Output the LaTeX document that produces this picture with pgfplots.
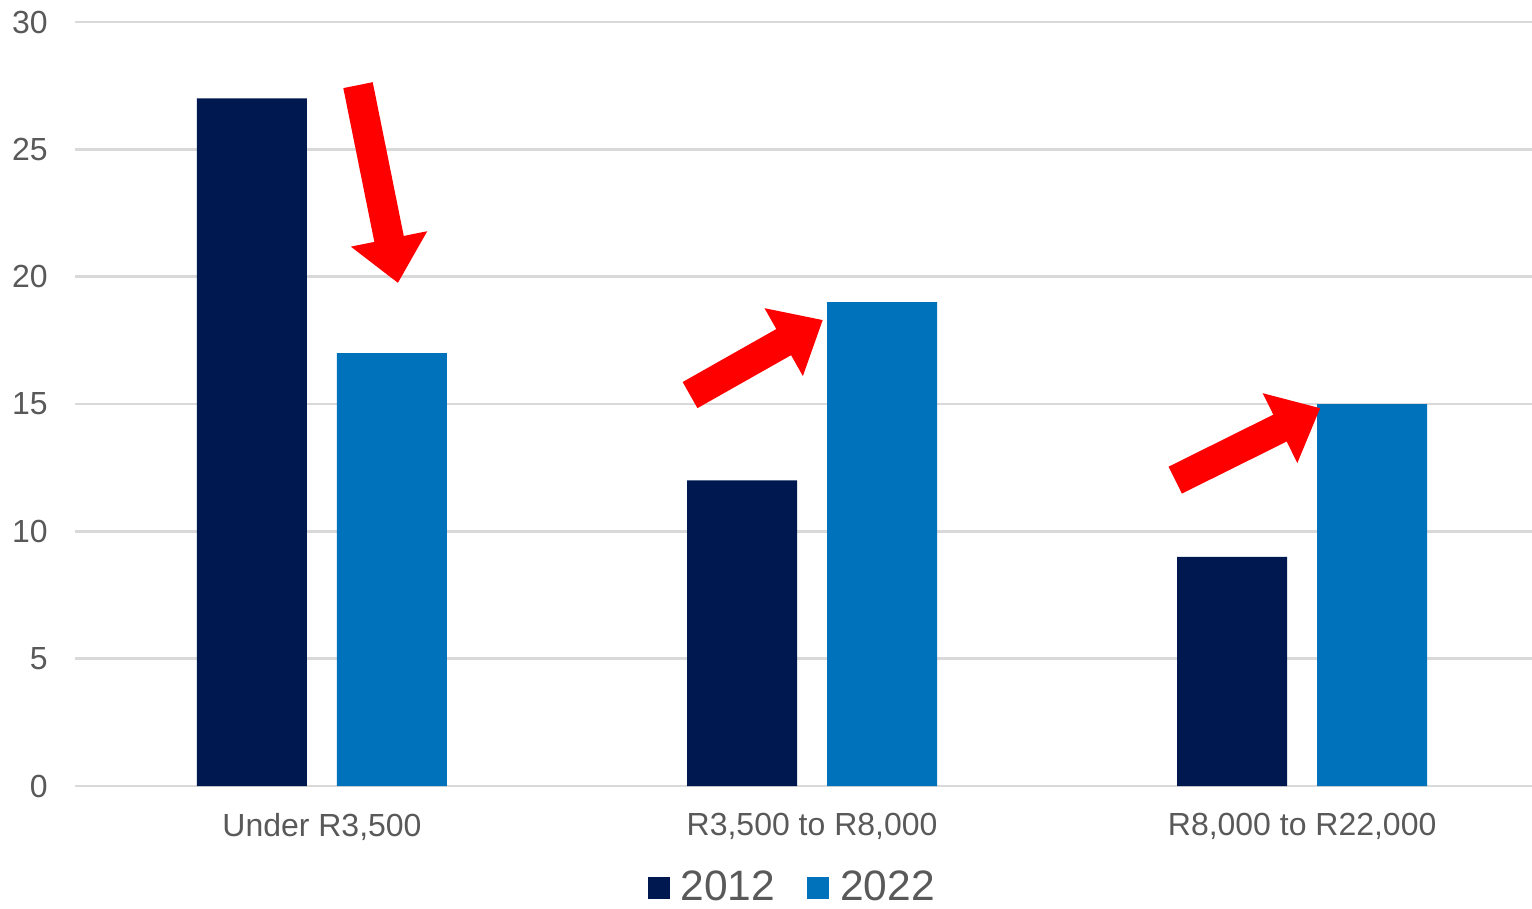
\documentclass[border=0pt]{standalone}
\usepackage{pgfplots}
\pgfplotsset{compat=1.18}
\usepackage{fontspec}
\setmainfont{Liberation Sans}
\usetikzlibrary{arrows.meta}
\definecolor{navy}{RGB}{0,24,80}
\definecolor{blue22}{RGB}{0,114,188}
\definecolor{txt}{RGB}{89,89,89}
\definecolor{gridc}{RGB}{217,217,217}
\begin{document}
\begin{tikzpicture}
\begin{axis}[
  scale only axis,
  width=14.57cm, height=7.64cm,
  xmin=-0.504, xmax=2.469,
  ymin=0, ymax=30,
  ytick={0,5,...,30},
  xtick={0,1,2},
  xticklabels={{Under R3,500},{R3,500 to R8,000},{R8,000 to R22,000}},
  major tick length=0pt,
  axis x line*=bottom,
  axis y line*=left,
  y axis line style={draw=none},
  x axis line style={draw=gridc, line width=0.8pt},
  xmajorgrids=false,
  ymajorgrids=true,
  major grid style={draw=gridc, line width=0.8pt},
  ticklabel style={font=\fontsize{9.1}{10}\selectfont, text=txt},
  /pgf/number format/assume math mode=true,
  yticklabel style={xshift=-0.15cm},
  xticklabel style={yshift=-0.15cm},
  ybar, bar width=1.1cm,
  legend style={at={(0.494,-0.134)}, anchor=center, draw=none, fill=none,
     legend columns=2, font=\fontsize{12.1}{14}\selectfont, text=txt,
     /tikz/every even column/.append style={column sep=0.25cm}},
  legend image code/.code={\fill[#1] (0cm,-0.11cm) rectangle (0.22cm,0.11cm);},
  clip=false,
]
\addplot[fill=navy, draw=none, bar shift=-0.7cm] coordinates {(0,27) (1,12) (2,9)};
\addplot[fill=blue22, draw=none, bar shift=0.7cm] coordinates {(0,17) (1,19) (2,15)};
\legend{\hspace{0.04cm}2012, \hspace{0.04cm}2022}
\draw[red, line width=0.3cm, -{Triangle[width=0.75cm,length=0.45cm]}] (axis cs:0.0735,27.52) -- (axis cs:0.155,19.75);
\draw[red, line width=0.3cm, -{Triangle[width=0.75cm,length=0.45cm]}] (axis cs:0.751,15.35) -- (axis cs:1.022,18.30);
\draw[red, line width=0.3cm, -{Triangle[width=0.75cm,length=0.45cm]}] (axis cs:1.741,12.01) -- (axis cs:2.037,14.84);
\end{axis}
\pgfresetboundingbox
\useasboundingbox (-0.75cm,-1.23cm) rectangle (14.57cm,7.86cm);
\end{tikzpicture}
\end{document}
